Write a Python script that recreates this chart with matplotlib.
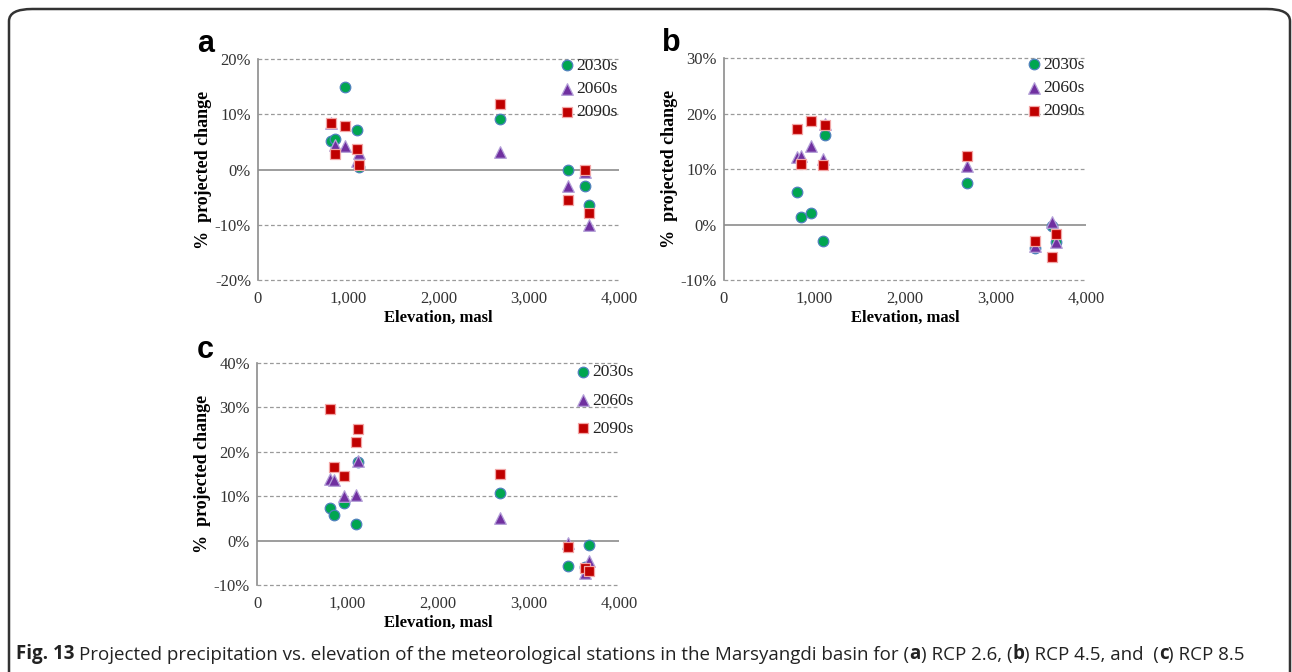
import matplotlib
matplotlib.use("Agg")
import matplotlib.pyplot as plt
from matplotlib.patches import FancyBboxPatch
from matplotlib.text import Annotation
from matplotlib.ticker import FuncFormatter, MultipleLocator

# ---------------- data ----------------
elevation = [805, 850, 960, 1095, 1120, 2685, 3435, 3620, 3665]
series_labels = ["2030s", "2060s", "2090s"]

# (a) RCP 2.6
a_2030 = [5.1, 5.6, 14.9, 7.1, 0.4, 9.1, 0.0, -2.9, -6.4]
a_2060 = [8.5, 4.5, 4.3, 1.6, 2.9, 3.2, -2.9, -0.4, -10.1]
a_2090 = [8.5, 2.8, 7.8, 3.8, 0.8, 11.9, -5.5, 0.0, -7.9]

# (b) RCP 4.5
b_2030 = [5.8, 1.4, 2.1, -3.0, 16.2, 7.4, -4.3, -0.3, -3.1]
b_2060 = [12.2, 12.4, 14.1, 11.8, 18.1, 10.6, -3.8, 0.4, -3.1]
b_2090 = [17.2, 10.9, 18.7, 10.7, 17.9, 12.4, -2.9, -5.8, -1.7]

# (c) RCP 8.5
c_2030 = [7.4, 5.8, 8.5, 3.8, 17.7, 10.8, -5.7, -6.0, -1.0]
c_2060 = [13.9, 13.6, 10.0, 10.2, 17.9, 5.0, -0.6, -7.4, -4.5]
c_2090 = [29.6, 16.6, 14.5, 22.1, 25.2, 15.1, -1.4, -6.2, -6.9]

x_ticks = [0, 1000, 2000, 3000, 4000]
panel_letters = ["a", "b", "c"]

# ---------------- style ----------------
serif = ["Liberation Serif", "DejaVu Serif"]
styles = [
    dict(marker="o", s=58, facecolor="#00A650", edgecolor="#4F81BD", linewidths=0.9),
    dict(marker="^", s=70, facecolor="#7030A0", edgecolor="#B4A0D8", linewidths=0.9),
    dict(marker="s", s=50, facecolor="#C00000", edgecolor="#F2A6A6", linewidths=0.9),
]

W, H = 1292, 672
fig = plt.figure(figsize=(W / 100, H / 100), dpi=100)


def px_axes(l, t, r, b):
    return fig.add_axes([l / W, 1 - b / H, (r - l) / W, (b - t) / H])


def style_axes(ax, ylim, yticks_step, legend_anchor, legend_spacing):
    ax.set_xlim(0, 4000)
    ax.set_ylim(*ylim)
    ax.set_xticks(x_ticks)
    ax.yaxis.set_major_locator(MultipleLocator(yticks_step))
    ax.xaxis.set_major_formatter(FuncFormatter(lambda v, p: f"{int(v):,}"))
    ax.yaxis.set_major_formatter(FuncFormatter(lambda v, p: f"{int(round(v))}%"))
    for sp in ["top", "right", "bottom"]:
        ax.spines[sp].set_visible(False)
    ax.spines["left"].set_color("#8c8c8c")
    ax.spines["left"].set_linewidth(1.2)
    ax.tick_params(length=0, labelsize=12, colors="#333333", pad=5)
    for lab in ax.get_xticklabels() + ax.get_yticklabels():
        lab.set_fontfamily(serif)
    ax.tick_params(axis="x", pad=8)
    yt = range(int(ylim[0]), int(ylim[1]) + 1, yticks_step)
    for v in yt:
        if v == 0:
            ax.axhline(0, color="#8c8c8c", lw=1.2, zorder=1)
        else:
            ax.axhline(v, color="#9a9a9a", lw=0.9, ls=(0, (3, 2)), zorder=1,
                       clip_on=False)
    ax.set_xlabel("Elevation, masl", fontfamily=serif, fontweight="bold",
                  fontsize=12, labelpad=2)
    ax.set_ylabel("%  projected change", fontfamily=serif, fontweight="bold",
                  fontsize=13, labelpad=2)
    leg = ax.legend(loc="upper left", bbox_to_anchor=legend_anchor, frameon=False,
                    prop={"family": serif, "size": 12.5}, handletextpad=-0.2,
                    labelspacing=legend_spacing, borderpad=0, borderaxespad=0,
                    handlelength=1.5)
    for t in leg.get_texts():
        t.set_color("#222222")


def draw(ax, data):
    for vals, st, lab in zip(data, styles, series_labels):
        ax.scatter(elevation, vals, label=lab, zorder=3, **st)


ax_a = px_axes(258, 59, 619, 280)
draw(ax_a, [a_2030, a_2060, a_2090])
style_axes(ax_a, (-20, 20), 10, (0.82, 1.005), 0.40)

ax_b = px_axes(724, 58, 1086, 280)
draw(ax_b, [b_2030, b_2060, b_2090])
style_axes(ax_b, (-10, 30), 10, (0.82, 1.005), 0.40)

ax_c = px_axes(257, 363, 619, 585)
draw(ax_c, [c_2030, c_2060, c_2090])
style_axes(ax_c, (-10, 40), 10, (0.865, 0.995), 0.70)

# panel letters
for letter, (x, y) in zip(panel_letters, [(197, 44), (662, 43), (197, 350)]):
    fig.text(x / W, 1 - y / H, letter, fontsize=22, fontweight="bold",
             fontfamily="Liberation Sans", va="center", ha="left")

# frame
frame = FancyBboxPatch((9 / W, -0.05), (1281 / W), 1 - 9 / H + 0.05,
                       boxstyle="round,pad=0,rounding_size=0.018",
                       transform=fig.transFigure, fill=False,
                       edgecolor="#333333", linewidth=1.8, zorder=0)
fig.patches.append(frame)

# caption
cap_font = dict(fontfamily="Open Sans", fontsize=13.5, color="#222222")
pieces = [
    ("Fig. 13 ", True),
    ("Projected precipitation vs. elevation of the meteorological stations in the Marsyangdi basin for (", False),
    ("a", True), (") RCP 2.6, (", False), ("b", True), (") RCP 4.5, and  (", False),
    ("c", True), (") RCP 8.5", False),
]
prev_artist = fig.text(16 / W, 1 - 659 / H, pieces[0][0], fontweight="bold",
                       va="baseline", ha="left", **cap_font)
for txt, bold in pieces[1:]:
    prev_artist = fig.add_artist(
        Annotation(txt, xy=(1, 0), xycoords=prev_artist,
                   va="bottom", ha="left",
                   fontweight="bold" if bold else "normal",
                   **cap_font))

fig.savefig("out.png", dpi=100)
